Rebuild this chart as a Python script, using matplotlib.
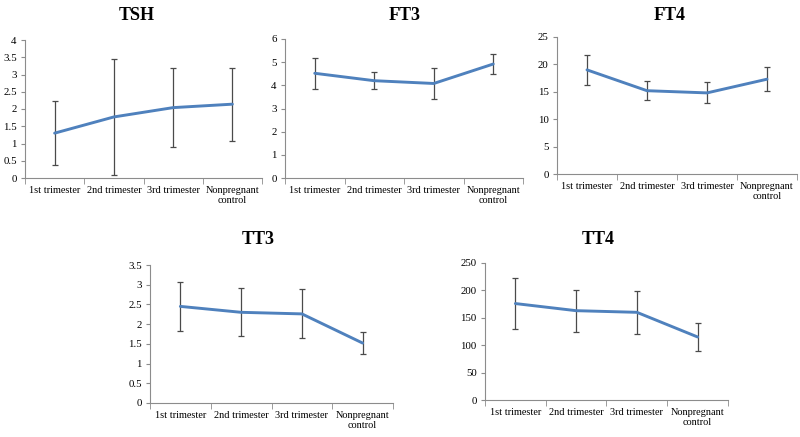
import matplotlib
matplotlib.use("Agg")
import matplotlib.pyplot as plt
import numpy as np

categories = ["1st trimester", "2nd trimester", "3rd trimester", "Nonpregnant\ncontrol"]

tsh_mean = [1.30, 1.77, 2.04, 2.14]
tsh_sd = [0.93, 1.68, 1.14, 1.06]
ft3_mean = [4.52, 4.20, 4.08, 4.92]
ft3_sd = [0.66, 0.37, 0.66, 0.44]
ft4_mean = [19.0, 15.2, 14.8, 17.3]
ft4_sd = [2.8, 1.75, 1.9, 2.2]
tt3_mean = [2.45, 2.30, 2.26, 1.52]
tt3_sd = [0.62, 0.61, 0.62, 0.27]
tt4_mean = [176, 163, 160, 115]
tt4_sd = [46, 38, 39, 26]

panels = [
    ("TSH", tsh_mean, tsh_sd, 4, 0.5, (25, 40, 178, 237), 137, 15),
    ("FT3", ft3_mean, ft3_sd, 6, 1, (285, 39, 178, 238), 405, 15),
    ("FT4", ft4_mean, ft4_sd, 25, 5, (557, 37, 174, 240), 670, 15),
    ("TT3", tt3_mean, tt3_sd, 3.5, 0.5, (150, 265, 403, 243), 258, 240),
    ("TT4", tt4_mean, tt4_sd, 250, 50, (485, 263, 400, 243), 598, 239),
]

W, H = 800, 437
fig = plt.figure(figsize=(W / 100, H / 100), dpi=100)
fig.patch.set_facecolor("white")
serif = ["Liberation Serif", "DejaVu Serif"]

def fmt(v):
    return "%g" % v

for title, mean, sd, ymax, step, (x0, ytop, ybot, w), tx, ty in panels:
    ax = fig.add_axes([x0 / W, 1 - ybot / H, w / W, (ybot - ytop) / H])
    xs = np.arange(len(categories)) + 0.5
    ax.errorbar(xs, mean, yerr=sd, fmt="none", ecolor="#4a4a4a", elinewidth=0.9,
                capsize=2.5, capthick=0.9, zorder=2)
    ax.plot(xs, mean, color="#4F81BD", linewidth=2.1, zorder=3, solid_capstyle="round")
    ax.set_xlim(0, len(categories))
    ax.set_ylim(0, ymax)
    yt = np.arange(0, ymax + step / 2, step)
    ax.set_yticks(yt)
    ax.set_yticklabels([fmt(v) for v in yt], fontfamily=serif, fontsize=7.8)
    ax.set_xticks(xs)
    ax.set_xticklabels(categories, fontfamily=serif, fontsize=7.4, linespacing=1.1)
    ax.tick_params(axis="x", which="major", length=0, pad=6)
    ax.set_xticks(np.arange(0, len(categories) + 1), minor=True)
    ax.tick_params(axis="x", which="minor", length=4, color="#8c8c8c", direction="out")
    ax.tick_params(axis="y", length=3, color="#8c8c8c", direction="out", pad=3)
    for s in ["top", "right"]:
        ax.spines[s].set_visible(False)
    for s in ["left", "bottom"]:
        ax.spines[s].set_color("#8c8c8c")
        ax.spines[s].set_linewidth(0.8)
    ax.set_facecolor("none")
    fig.text(tx / W, 1 - ty / H, title, ha="center", va="center",
             fontfamily=serif, fontsize=13, fontweight="bold")

fig.savefig("out.png", dpi=100, facecolor="white")
